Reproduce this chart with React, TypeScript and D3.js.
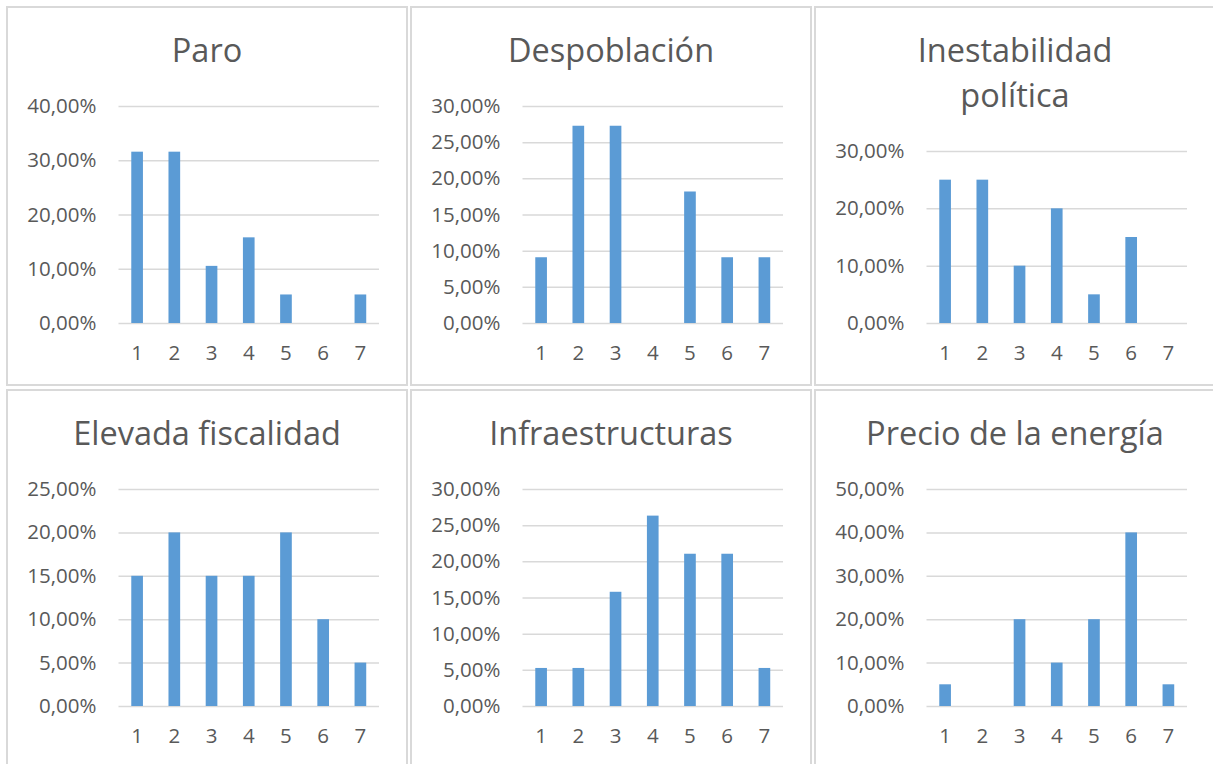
import React, { useEffect, useRef } from 'react';
import * as d3 from 'd3';

// answers 1..7, share of respondents per option
const categories = ['1', '2', '3', '4', '5', '6', '7'];

const paro = [0.3158, 0.3158, 0.1053, 0.1579, 0.0526, 0, 0.0526];
const despoblacion = [0.0909, 0.2727, 0.2727, 0, 0.1818, 0.0909, 0.0909];
const inestabilidad = [0.25, 0.25, 0.1, 0.2, 0.05, 0.15, 0];
const fiscalidad = [0.15, 0.2, 0.15, 0.15, 0.2, 0.1, 0.05];
const infraestructuras = [0.0526, 0.0526, 0.1579, 0.2632, 0.2105, 0.2105, 0.0526];
const energia = [0.05, 0, 0.2, 0.1, 0.2, 0.4, 0.05];

const titles = [['Paro'], ['Despoblación'], ['Inestabilidad', 'política'], ['Elevada fiscalidad'], ['Infraestructuras'], ['Precio de la energía']];
const seriesList = [paro, despoblacion, inestabilidad, fiscalidad, infraestructuras, energia];
const yMax = [0.4, 0.3, 0.3, 0.25, 0.3, 0.5];
const yStep = [0.1, 0.05, 0.1, 0.05, 0.05, 0.1];

const W = 1213;
const H = 764;
const panelW = 402;
const panelH = 380;

const esLocale = d3.formatLocale({ decimal: ',', thousands: '.', grouping: [3], currency: ['', '€'] });
const pct = esLocale.format('.2%');

const App = () => {
  const ref = useRef<SVGSVGElement>(null);

  useEffect(() => {
    document.body.style.margin = '0';
    const svg = d3.select(ref.current);
    svg.selectAll('*').remove();

    seriesList.forEach((values, i) => {
      const col = i % 3;
      const row = Math.floor(i / 3);
      const g = svg.append('g').attr('transform', `translate(${6 + col * 404},${6 + row * 383})`);

      // panel frame
      g.append('rect')
        .attr('x', 1).attr('y', 1)
        .attr('width', panelW - 2).attr('height', panelH - 2)
        .attr('fill', 'white')
        .attr('stroke', '#d9d9d9')
        .attr('stroke-width', 2);

      const title = titles[i];
      const top = title.length > 1 ? 145 : 100;
      const bottom = 317;
      const left = 112.5;
      const right = 373;

      g.append('text')
        .attr('x', 201)
        .attr('y', 56)
        .attr('text-anchor', 'middle')
        .style('font-family', '"Open Sans", sans-serif')
        .style('font-size', '32.5px')
        .style('fill', '#595959')
        .selectAll('tspan')
        .data(title)
        .enter().append('tspan')
        .attr('x', 201)
        .attr('dy', (d, k) => (k === 0 ? 0 : 45))
        .text(d => d);

      const x = d3.scaleBand().domain(categories).range([left, right])
        .paddingInner(1 - 1 / 3.19).paddingOuter((1 - 1 / 3.19) / 2);
      const y = d3.scaleLinear().domain([0, yMax[i]]).range([bottom, top]);
      const ticks = d3.range(0, yMax[i] + 1e-9, yStep[i]);

      const yAxis = g.append('g')
        .attr('transform', `translate(${left},0)`)
        .call(d3.axisLeft(y).tickValues(ticks).tickSize(-(right - left)).tickPadding(22).tickFormat(d => pct(+d)));
      yAxis.select('.domain').remove();
      yAxis.selectAll('.tick line').attr('stroke', '#d9d9d9').attr('stroke-width', 1.5);
      yAxis.selectAll('.tick text')
        .attr('fill', '#595959')
        .style('font-family', '"Open Sans", sans-serif')
        .style('font-size', '20.5px');

      g.selectAll('rect.bar')
        .data(values)
        .enter().append('rect')
        .attr('class', 'bar')
        .attr('x', (d, k) => x(categories[k]) as number)
        .attr('width', x.bandwidth())
        .attr('y', d => y(d))
        .attr('height', d => bottom - y(d))
        .attr('fill', '#5b9bd5');

      const xAxis = g.append('g')
        .attr('transform', `translate(0,${bottom})`)
        .call(d3.axisBottom(x).tickSize(0).tickPadding(22));
      xAxis.select('.domain').remove();
      xAxis.selectAll('.tick text')
        .attr('fill', '#595959')
        .style('font-family', '"Open Sans", sans-serif')
        .style('font-size', '20.5px');
    });
  }, []);

  return <svg ref={ref} width={W} height={H} style={{ display: 'block', background: 'white' }} />;
};

export default App;
